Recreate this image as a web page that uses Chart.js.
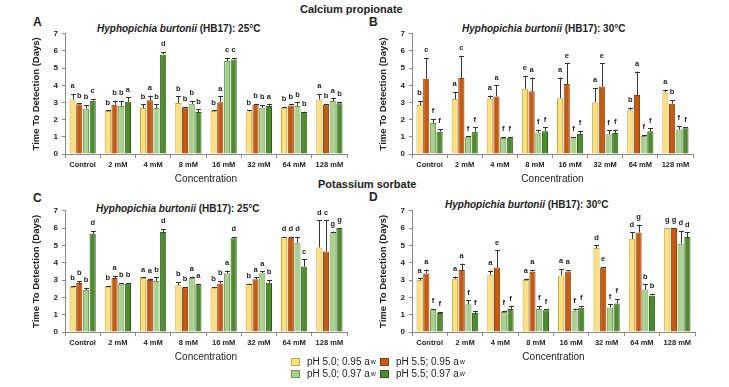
<!DOCTYPE html>
<html>
<head>
<meta charset="utf-8">
<script src="https://cdn.jsdelivr.net/npm/chart.js@4"></script>
<style>
  body { margin: 0; background: #fff; }
  #wrap { position: relative; width: 729px; height: 387px; overflow: hidden; font-family: "Liberation Sans", Arial, sans-serif; color: #222; }
  canvas { position: absolute; }
  .txt { position: absolute; white-space: nowrap; }
  .head { font-weight: bold; font-size: 11px; }
  .letter { font-weight: bold; font-size: 12px; }
  .ptitle { font-weight: bold; font-size: 10px; }
  .ptitle i { font-style: italic; }
  .leg { font-size: 10px; display: flex; align-items: center; }
  .sw { display: inline-block; width: 7px; height: 6px; margin-right: 7px; border: 1px solid; }
  sub { font-size: 7px; vertical-align: -2px; margin-left: 1px; }
</style>
</head>
<body>
<div id="wrap">
  <div class="txt head" style="left:300px; top:3px;">Calcium propionate</div>
  <div class="txt head" style="left:318px; top:178px;">Potassium sorbate</div>
  <div class="txt letter" style="left:33px; top:15px;">A</div>
  <div class="txt letter" style="left:369px; top:15px;">B</div>
  <div class="txt letter" style="left:33px; top:191px;">C</div>
  <div class="txt letter" style="left:369px; top:190px;">D</div>
  <div class="txt ptitle" style="left:97px; top:23px;"><i>Hyphopichia burtonii</i> (HB17): 25°C</div>
  <div class="txt ptitle" style="left:462px; top:23px;"><i>Hyphopichia burtonii</i> (HB17): 30°C</div>
  <div class="txt ptitle" style="left:96px; top:203px;"><i>Hyphopichia burtonii</i> (HB17): 25°C</div>
  <div class="txt ptitle" style="left:445px; top:199px;"><i>Hyphopichia burtonii</i> (HB17): 30°C</div>
  <canvas id="chartA" width="324" height="165" style="left:31px; top:25px;"></canvas>
  <canvas id="chartB" width="322" height="165" style="left:378px; top:25px;"></canvas>
  <canvas id="chartC" width="324" height="166" style="left:31px; top:202px;"></canvas>
  <canvas id="chartD" width="324" height="166" style="left:378px; top:202px;"></canvas>
  <div id="legend"></div>
</div>
<script>
// categorias y series
const categories = ['Control', '2 mM', '4 mM', '8 mM', '16 mM', '32 mM', '64 mM', '128 mM'];
const seriesNames = ['pH 5.0; 0.95 a', 'pH 5.5; 0.95 a', 'pH 5.0; 0.97 a', 'pH 5.5; 0.97 a'];
const fillColors = ['#FFE07E', '#C55A11', '#A9D18E', '#4E8A2E'];
const edgeColors = ['#C9A83E', '#8A3D0B', '#6F9A56', '#2F5C1B'];
const yTicks = [0, 1, 2, 3, 4, 5, 6, 7];

// A: propionato de calcio 25°C  (orden: amarillo, naranja, verde claro, verde oscuro)
const valuesA = [
  [3.17, 2.50, 2.68, 2.97, 2.50, 2.47, 2.70, 3.17],
  [2.89, 2.87, 3.13, 2.72, 3.02, 2.88, 2.82, 2.88],
  [2.63, 2.80, 2.68, 2.92, 5.42, 2.70, 2.80, 3.08],
  [3.10, 3.05, 5.80, 2.45, 5.50, 2.80, 2.45, 2.95]
];
const errA = [
  [0.33, 0.05, 0.22, 0.38, 0.05, 0.08, 0.05, 0.33],
  [0.06, 0.23, 0.27, 0.03, 0.33, 0.04, 0.08, 0.04],
  [0.22, 0.30, 0.22, 0.16, 0.18, 0.15, 0.20, 0.17],
  [0.10, 0.25, 0.15, 0.15, 0.10, 0.10, 0.02, 0.10]
];
const lettersA = [
  ['a', 'b', 'b', 'b', 'b', 'b', 'b', 'a'],
  ['b', 'b', 'a', 'b', 'a', 'b', 'b', 'b'],
  ['b', 'b', 'b', 'b', 'c', 'b', 'b', 'a'],
  ['c', 'a', 'd', 'b', 'c', 'a', 'b', 'b']
];

// B: propionato de calcio 30°C
const valuesB = [
  [2.85, 3.20, 3.22, 3.80, 3.25, 3.00, 2.55, 3.60],
  [4.38, 4.43, 3.35, 3.65, 4.08, 3.93, 3.43, 2.93],
  [1.80, 1.00, 0.93, 1.25, 0.98, 1.15, 1.05, 1.42],
  [1.30, 1.30, 0.95, 1.32, 1.17, 1.23, 1.32, 1.50]
];
const errB = [
  [0.23, 0.40, 0.18, 0.75, 1.20, 0.85, 0.15, 0.15],
  [1.22, 1.27, 0.65, 0.80, 1.20, 1.35, 1.37, 0.22],
  [0.25, 0.02, 0.05, 0.17, 0.02, 0.23, 0.05, 0.20],
  [0.15, 0.25, 0.03, 0.23, 0.18, 0.19, 0.18, 0.05]
];
const lettersB = [
  ['b', 'a', 'a', 'e', 'a', 'a', 'b', 'a'],
  ['c', 'c', 'a', 'a', 'e', 'e', 'a', 'b'],
  ['f', 'f', 'f', 'f', 'f', 'f', 'f', 'f'],
  ['f', 'f', 'f', 'f', 'f', 'f', 'f', 'f']
];

// C: sorbato de potasio 25°C
const valuesC = [
  [2.60, 2.62, 3.12, 2.70, 2.55, 2.77, 5.47, 4.88],
  [2.83, 3.12, 3.00, 2.58, 2.80, 3.05, 5.45, 4.65],
  [2.42, 2.78, 2.95, 3.12, 3.40, 3.40, 5.15, 5.75],
  [5.67, 2.78, 5.77, 2.75, 5.42, 2.85, 3.78, 6.00]
];
const errC = [
  [0.05, 0.03, 0.03, 0.18, 0.05, 0.03, 0.03, 1.57],
  [0.12, 0.13, 0.08, 0.02, 0.15, 0.10, 0.05, 1.80],
  [0.13, 0.04, 0.20, 0.08, 0.15, 0.10, 0.35, 0.05],
  [0.18, 0.04, 0.18, 0.05, 0.08, 0.15, 0.42, 0.00]
];
const lettersC = [
  ['b', 'b', 'a', 'b', 'b', 'b', 'd', 'd'],
  ['b', 'a', 'a', 'b', 'b', 'a', 'd', 'c'],
  ['b', 'b', 'b', 'a', 'a', 'a', 'd', 'g'],
  ['d', 'b', 'd', 'a', 'd', 'b', 'c', 'g']
];

// D: sorbato de potasio 30°C
const valuesD = [
  [3.00, 3.07, 3.30, 3.00, 3.27, 4.85, 5.38, 6.00],
  [3.38, 3.58, 3.72, 3.48, 3.50, 3.72, 5.75, 6.00],
  [1.30, 1.60, 1.15, 1.33, 1.23, 1.42, 2.45, 5.10],
  [1.10, 1.10, 1.33, 1.25, 1.40, 1.65, 2.10, 5.48]
];
const errD = [
  [0.10, 0.13, 0.25, 0.08, 0.38, 0.15, 0.37, 0.00],
  [0.22, 0.37, 1.00, 0.10, 0.08, 0.03, 0.45, 0.00],
  [0.02, 0.22, 0.07, 0.17, 0.12, 0.18, 0.30, 0.75],
  [0.05, 0.12, 0.15, 0.05, 0.10, 0.25, 0.10, 0.27]
];
const lettersD = [
  ['a', 'a', 'a', 'a', 'a', 'd', 'd', 'g'],
  ['a', 'a', 'e', 'a', 'a', 'e', 'g', 'g'],
  ['f', 'f', 'f', 'f', 'f', 'f', 'b', 'd'],
  ['f', 'f', 'f', 'f', 'f', 'f', 'b', 'd']
];

const FONT = '"Liberation Sans", Arial, sans-serif';
const AXIS_GREY = '#8a8a8a';

// Dibuja barras de error (solo hacia arriba) y letras de significancia
const errorBarsPlugin = {
  id: 'errorBars',
  afterDatasetsDraw(chart, args, opts) {
    const ctx = chart.ctx;
    const y = chart.scales.y;
    ctx.save();
    chart.data.datasets.forEach((ds, di) => {
      const meta = chart.getDatasetMeta(di);
      meta.data.forEach((bar, i) => {
        const v = ds.data[i];
        const top = v + opts.err[di][i];
        const px = Math.round(bar.x) + 0.5;
        const yTop = y.getPixelForValue(top);
        if (opts.err[di][i] > 0) {
          ctx.strokeStyle = '#333';
          ctx.lineWidth = 1;
          ctx.beginPath();
          ctx.moveTo(px, y.getPixelForValue(v));
          ctx.lineTo(px, yTop);
          ctx.moveTo(px - 2.5, Math.round(yTop) + 0.5);
          ctx.lineTo(px + 2.5, Math.round(yTop) + 0.5);
          ctx.stroke();
        }
        ctx.fillStyle = '#222';
        ctx.font = 'bold 7.5px ' + FONT;
        ctx.textAlign = 'center';
        ctx.textBaseline = 'bottom';
        ctx.fillText(opts.letters[di][i], bar.x, yTop - 4);
      });
    });
    ctx.restore();
  }
};

function crearPanel(id, valores, errores, letras, padRight) {
  const datasets = valores.map((serie, k) => ({
    label: seriesNames[k],
    data: serie,
    backgroundColor: fillColors[k],
    borderColor: edgeColors[k],
    borderWidth: 1,
    categoryPercentage: 0.76,
    barPercentage: 0.92
  }));
  return new Chart(document.getElementById(id), {
    type: 'bar',
    data: { labels: categories, datasets: datasets },
    options: {
      responsive: false,
      animation: false,
      devicePixelRatio: 1,
      layout: { padding: { top: 0, right: padRight, left: 0, bottom: 0 } },
      plugins: {
        legend: { display: false },
        tooltip: { enabled: false },
        errorBars: { err: errores, letters: letras }
      },
      scales: {
        x: {
          grid: { display: true, drawOnChartArea: false, drawTicks: true, tickLength: 4, color: AXIS_GREY },
          border: { color: AXIS_GREY },
          ticks: { color: '#222', font: { family: FONT, size: 7.5, weight: 'bold' }, padding: 2, maxRotation: 0, autoSkip: false },
          title: { display: true, text: 'Concentration', color: '#222', font: { family: FONT, size: 10 }, padding: { top: 0, bottom: 5 } },
          afterFit: (s) => { s.height = 36; }
        },
        y: {
          min: 0,
          max: 7,
          afterBuildTicks: (s) => { s.ticks = yTicks.map(v => ({ value: v })); },
          grid: { display: true, drawOnChartArea: false, drawTicks: true, tickLength: 3, color: AXIS_GREY },
          border: { color: AXIS_GREY },
          ticks: { color: '#222', font: { family: FONT, size: 8, weight: 'bold' }, padding: 4 },
          title: { display: true, text: 'Time To Detection (Days)', color: '#222', font: { family: FONT, size: 9.5, weight: 'bold' }, padding: { top: 0, bottom: 2 } },
          afterFit: (s) => { s.width = 34; }
        }
      }
    },
    plugins: [errorBarsPlugin]
  });
}

crearPanel('chartA', valuesA, errA, lettersA, 8);
crearPanel('chartB', valuesB, errB, lettersB, 7);
crearPanel('chartC', valuesC, errC, lettersC, 8);
crearPanel('chartD', valuesD, errD, lettersD, 7);

// leyenda compartida, en dos filas
const legPos = [[291, 356], [380, 356], [291, 368], [380, 368]];
const legend = document.getElementById('legend');
seriesNames.forEach((name, k) => {
  const d = document.createElement('div');
  d.className = 'txt leg';
  d.style.left = legPos[k][0] + 'px';
  d.style.top = legPos[k][1] + 'px';
  d.innerHTML = '<span class="sw" style="background:' + fillColors[k] + ';border-color:' + edgeColors[k] + '"></span>' + name + '<sub>w</sub>';
  legend.appendChild(d);
});
</script>
</body>
</html>
